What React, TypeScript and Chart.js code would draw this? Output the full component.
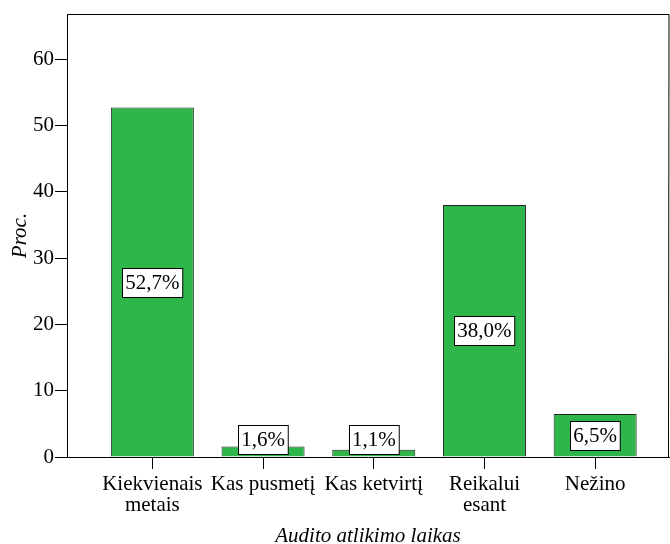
import React, { useEffect, useRef } from "react";
import { Chart, registerables } from "chart.js";

Chart.register(...registerables);

const categories: string[][] = [
  ["Kiekvienais", "metais"],
  ["Kas pusmetį"],
  ["Kas ketvirtį"],
  ["Reikalui", "esant"],
  ["Nežino"],
];
const percents: number[] = [52.7, 1.6, 1.1, 38.0, 6.5];
const yTicks: number[] = [0, 10, 20, 30, 40, 50, 60];

const FONT = "'Liberation Serif', 'Times New Roman', serif";

const framePlugin = {
  id: "frame",
  afterDraw(chart: any) {
    const { ctx, chartArea } = chart;
    ctx.save();
    ctx.strokeStyle = "#000";
    ctx.lineWidth = 1;
    ctx.beginPath();
    ctx.moveTo(chartArea.left, chartArea.top + 0.5);
    ctx.lineTo(chartArea.right, chartArea.top + 0.5);
    ctx.lineTo(chartArea.right - 0.5, chartArea.bottom);
    ctx.stroke();
    ctx.restore();
  },
};

const valueLabelPlugin = {
  id: "valueLabels",
  afterDatasetsDraw(chart: any) {
    const { ctx } = chart;
    const meta = chart.getDatasetMeta(0);
    ctx.save();
    ctx.font = `21px ${FONT}`;
    ctx.textAlign = "center";
    ctx.textBaseline = "middle";
    meta.data.forEach((bar: any, i: number) => {
      const text = percents[i].toFixed(1).replace(".", ",") + "%";
      const w = ctx.measureText(text).width + 6;
      const h = 29;
      let cy = (bar.y + bar.base) / 2;
      cy = Math.min(cy, bar.base - 17);
      const x0 = Math.round(bar.x - w / 2) + 0.5;
      const y0 = Math.round(cy - h / 2) + 0.5;
      ctx.fillStyle = "#fff";
      ctx.fillRect(x0, y0, w, h);
      ctx.strokeStyle = "#000";
      ctx.lineWidth = 1;
      ctx.strokeRect(x0, y0, w, h);
      ctx.fillStyle = "#000";
      ctx.fillText(text, bar.x, cy + 1);
    });
    ctx.restore();
  },
};

export default function App() {
  const ref = useRef<HTMLCanvasElement | null>(null);
  useEffect(() => {
    if (!ref.current) return;
    const chart = new Chart(ref.current, {
      type: "bar",
      data: {
        datasets: [
          {
            data: percents.map((v, i) => ({ x: i, y: v })),
            backgroundColor: "#2fb64b",
            borderColor: "#222222",
            borderWidth: 1,
            barPercentage: 0.75,
            categoryPercentage: 1,
          },
        ],
      },
      options: {
        animation: false,
        responsive: false,
        maintainAspectRatio: false,
        layout: { padding: { top: 14, right: 1, left: 0, bottom: 0 } },
        plugins: { legend: { display: false }, tooltip: { enabled: false } },
        scales: {
          x: {
            type: "linear",
            min: -0.771,
            max: 4.667,
            offset: false,
            grid: { display: true, offset: false, drawOnChartArea: false, drawTicks: true, tickLength: 12, color: "#000" },
            border: { display: true, color: "#000", width: 1 },
            ticks: {
              stepSize: 1,
              includeBounds: false,
              autoSkip: false,
              maxRotation: 0,
              padding: 5,
              color: "#000",
              font: { family: FONT, size: 21, lineHeight: 1.0 },
              callback: (v: any) => categories[Number(v)] ?? "",
            },
            afterBuildTicks: (scale: any) => {
              scale.ticks = categories.map((_, i) => ({ value: i }));
            },
            afterFit: (scale: any) => {
              scale.height = 87;
            },
            title: {
              display: true,
              text: "Audito atlikimo laikas",
              color: "#000",
              font: { family: FONT, size: 21, style: "italic", lineHeight: 1 },
              padding: { top: 0, bottom: -3 },
            },
          },
          y: {
            min: 0,
            max: 66.8,
            grid: { display: true, drawOnChartArea: false, drawTicks: true, tickLength: 12, color: "#000" },
            border: { display: true, color: "#000", width: 1 },
            ticks: {
              stepSize: 10,
              includeBounds: false,
              padding: 1,
              color: "#000",
              font: { family: FONT, size: 21 },
            },
            afterBuildTicks: (scale: any) => {
              scale.ticks = yTicks.map((v) => ({ value: v }));
            },
            afterFit: (scale: any) => {
              scale.width = 67;
            },
            title: {
              display: true,
              text: "Proc.",
              color: "#000",
              font: { family: FONT, size: 21, style: "italic", lineHeight: 1 },
              padding: { top: 10, bottom: 0 },
            },
          },
        },
      },
      plugins: [framePlugin, valueLabelPlugin],
    });
    return () => chart.destroy();
  }, []);
  return (
    <div style={{ position: "fixed", left: 0, top: 0, width: 670, height: 544, background: "#fff" }}>
      <canvas ref={ref} width={670} height={544} style={{ width: 670, height: 544 }} />
    </div>
  );
}
